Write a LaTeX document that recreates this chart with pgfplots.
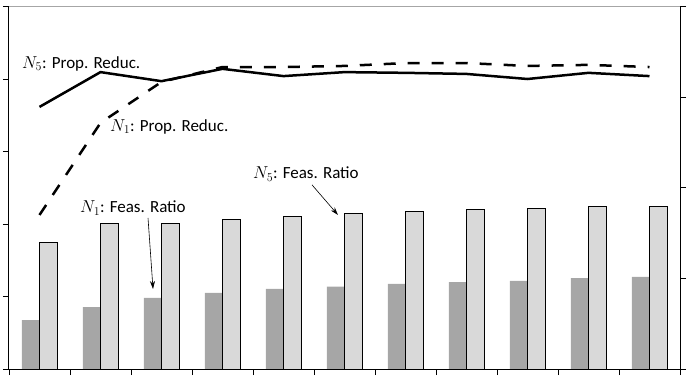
\documentclass[border=0pt]{standalone}
\usepackage{pgfplots}
\pgfplotsset{compat=1.18}
\usepackage{fontspec}
\setmainfont{Carlito}
\usetikzlibrary{arrows.meta}
\definecolor{darkbar}{HTML}{A6A6A6}
\definecolor{lightbar}{HTML}{D9D9D9}
\begin{document}
\begin{tikzpicture}
\path[use as bounding box] (-9pt,-15pt) rectangle (687pt,369pt);
\begin{axis}[at={(0pt,0pt)}, anchor=south west, scale only axis,
  width=671pt, height=362.5pt,
  xmin=0.5, xmax=11.5, ymin=0, ymax=1,
  axis line style={draw=none},
  xtick={0.5,1.5,...,11.5}, xticklabels={},
  ytick={0,0.2,0.4,0.6,0.8,1}, yticklabels={},
  xtick pos=bottom, ytick pos=left,
  tick align=outside, major tick length=6pt,
  tick style={black, line width=0.8pt},
  clip=false,
  font=\fontsize{17}{20}\selectfont]
\addplot[ybar, bar width=0.285, bar shift=-0.145, fill=darkbar, draw=none] coordinates {
(1,0.135) (2,0.171) (3,0.196) (4,0.210) (5,0.221) (6,0.227) (7,0.235) (8,0.240) (9,0.243) (10,0.251) (11,0.254)};
\addplot[ybar, bar width=0.285, bar shift=0.145, fill=lightbar, draw=black, line width=1pt] coordinates {
(1,0.348) (2,0.401) (3,0.401) (4,0.412) (5,0.420) (6,0.428) (7,0.434) (8,0.439) (9,0.442) (10,0.448) (11,0.448)};
\addplot[black, line width=2.5pt, mark=none] coordinates {
(1,0.723) (2,0.819) (3,0.794) (4,0.828) (5,0.808) (6,0.819) (7,0.817) (8,0.814) (9,0.800) (10,0.817) (11,0.808)};
\addplot[black, line width=2.5pt, mark=none, dash pattern=on 12pt off 12pt] coordinates {
(1,0.425) (2,0.679) (3,0.792) (4,0.833) (5,0.833) (6,0.836) (7,0.844) (8,0.844) (9,0.836) (10,0.839) (11,0.833)};
\draw[black, line width=1pt] (rel axis cs:0,1) -- (rel axis cs:0,0) -- (rel axis cs:1,0) -- (rel axis cs:1,1);
\draw[gray!70, line width=1pt] (rel axis cs:0,1) -- (rel axis cs:1,1);
\node[anchor=west, inner sep=0pt] at (axis cs:0.713,0.842) {$N_5$: Prop. Reduc.};
\node[anchor=west, inner sep=0pt] at (axis cs:2.156,0.668) {$N_1$: Prop. Reduc.};
\node[anchor=west, inner sep=0pt] at (axis cs:4.5,0.538) {$N_5$: Feas. Ratio};
\node[anchor=west, inner sep=0pt] at (axis cs:1.664,0.444) {$N_1$: Feas. Ratio};
\draw[-{Stealth[length=8pt,width=5pt]}, line width=0.6pt] (axis cs:5.467,0.508) -- (axis cs:5.893,0.425);
\draw[-{Stealth[length=8pt,width=5pt]}, line width=0.6pt] (axis cs:2.779,0.4166) -- (axis cs:2.861,0.2207);
\end{axis}
\begin{axis}[at={(0pt,0pt)}, anchor=south west, scale only axis,
  width=671pt, height=362.5pt,
  xmin=0.5, xmax=11.5, ymin=0, ymax=1,
  axis line style={draw=none},
  xtick=\empty, ytick={0,0.25,0.5,0.75,1}, yticklabels={},
  ytick pos=right, tick align=outside, major tick length=6pt,
  tick style={black, line width=0.8pt}]
\end{axis}
\end{tikzpicture}
\end{document}
